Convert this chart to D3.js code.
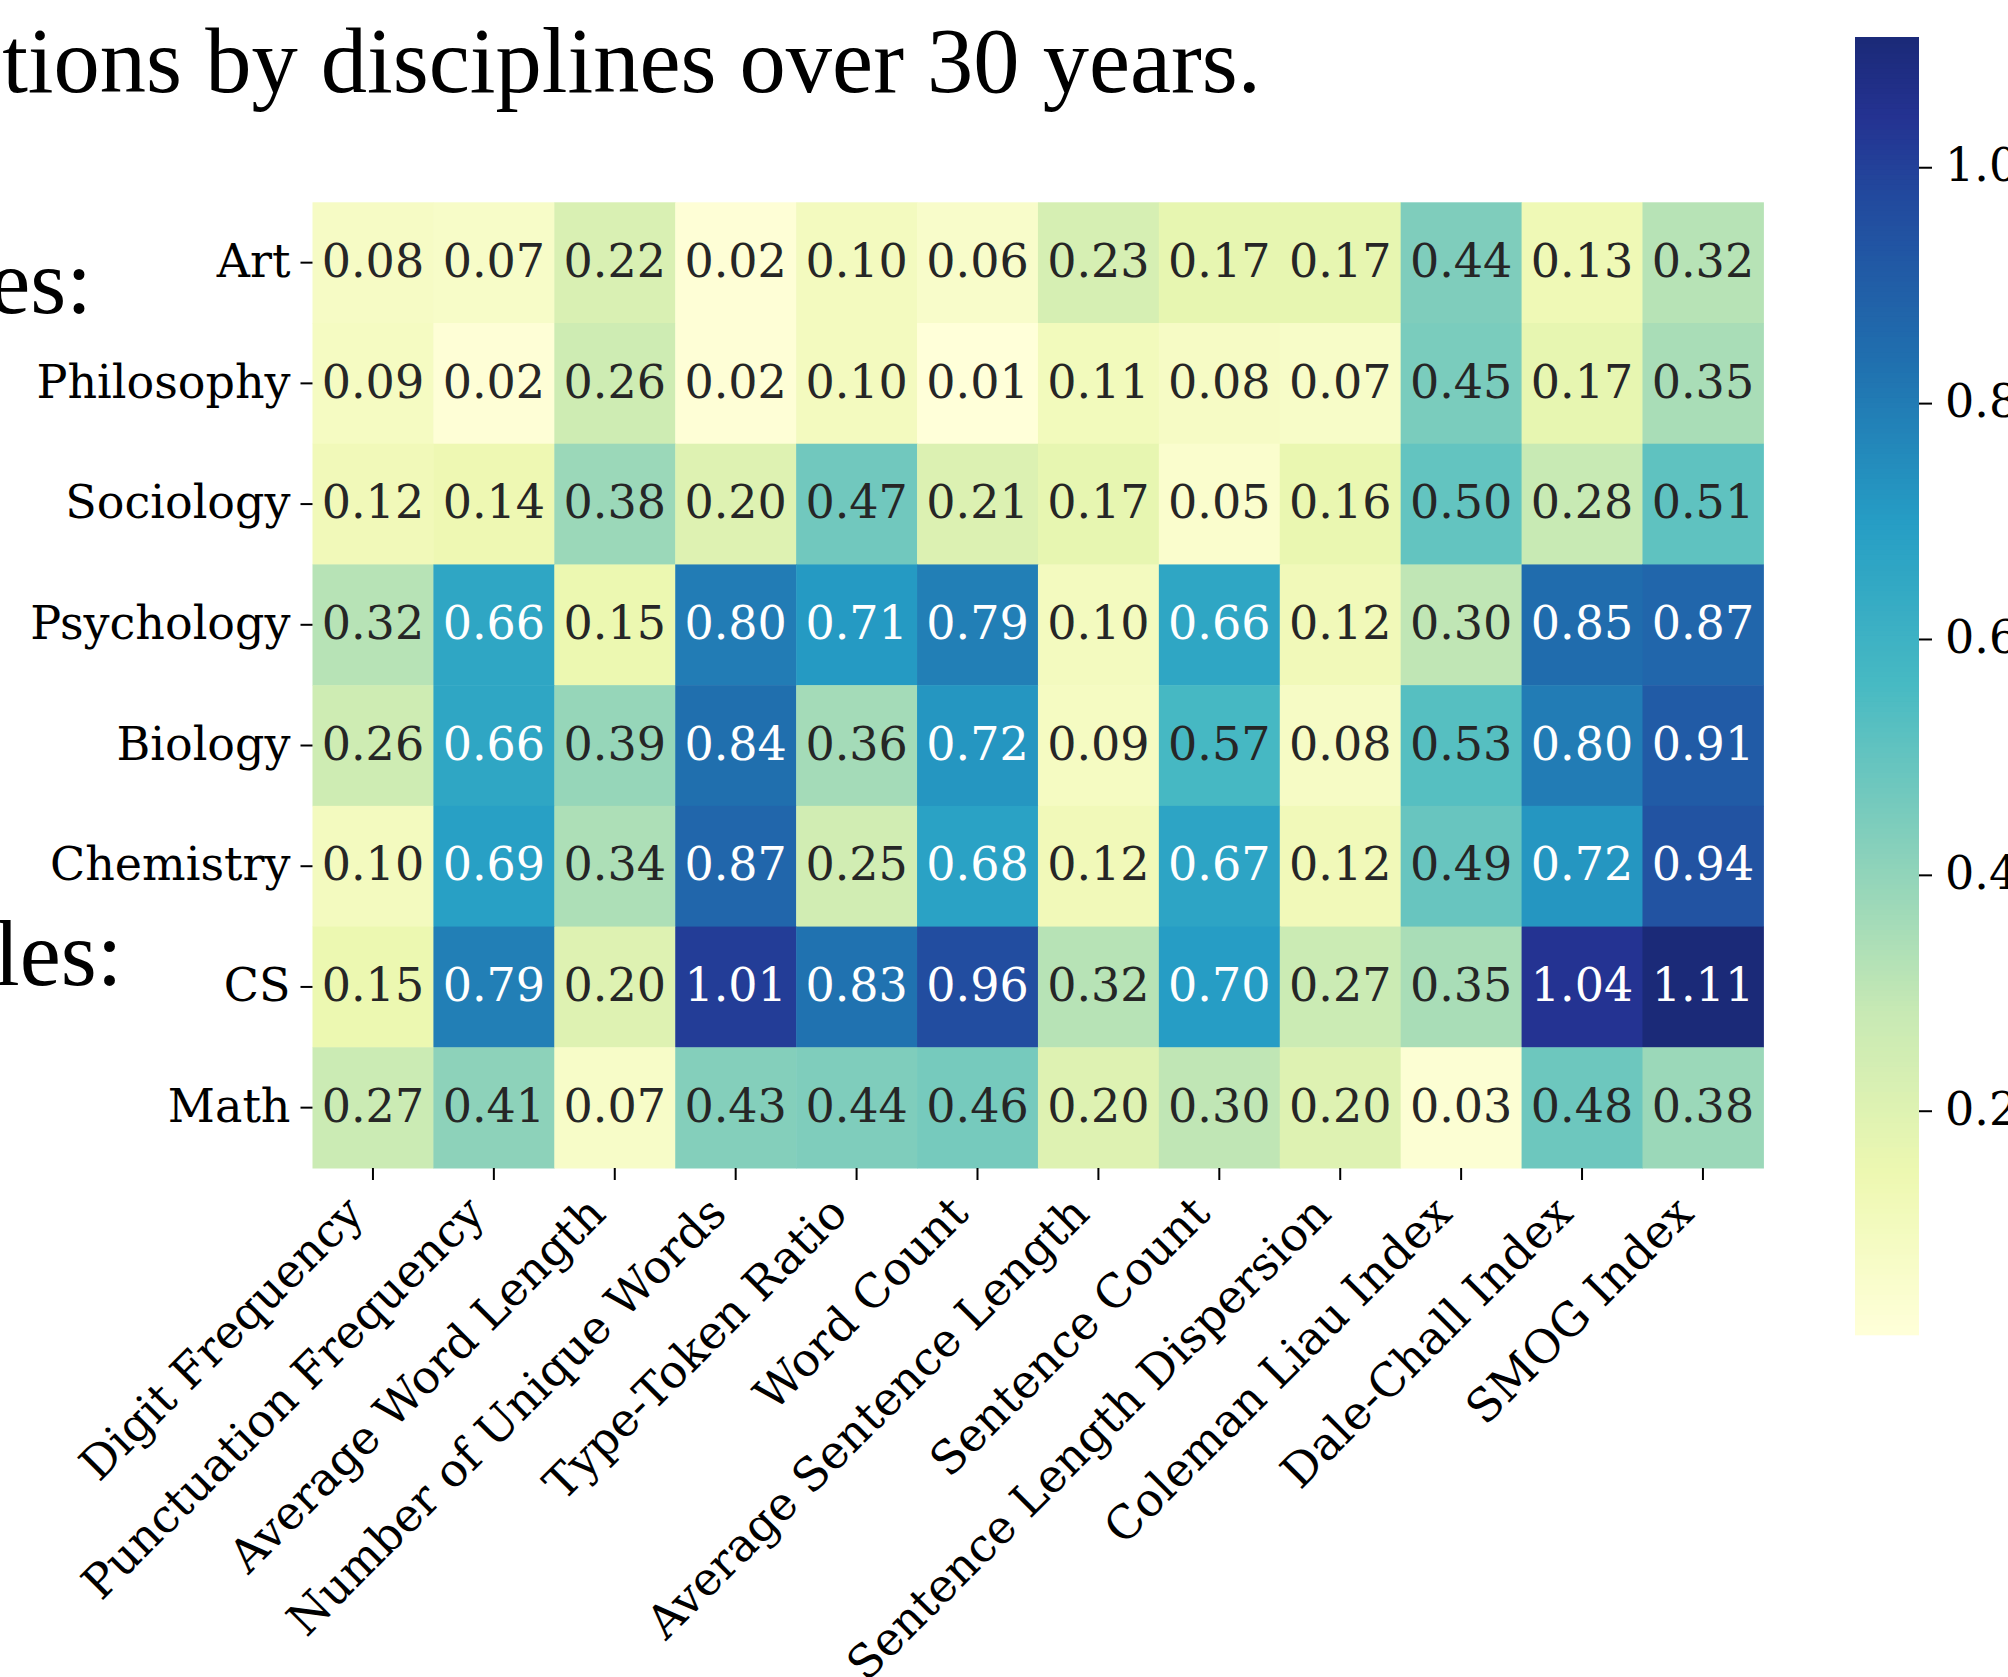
<!DOCTYPE html>
<html>
<head>
<meta charset="utf-8">
<script src="https://cdn.jsdelivr.net/npm/d3@7"></script>
<style>
  html, body { margin: 0; padding: 0; background: #ffffff; }
  svg { display: block; }
</style>
</head>
<body>
<svg id="chart" width="2008" height="1677"></svg>
<script>
// ---- data ----
const disciplines = ["Art", "Philosophy", "Sociology", "Psychology", "Biology", "Chemistry", "CS", "Math"];
const features = ["Digit Frequency", "Punctuation Frequency", "Average Word Length", "Number of Unique Words",
  "Type-Token Ratio", "Word Count", "Average Sentence Length", "Sentence Count",
  "Sentence Length Dispersion", "Coleman Liau Index", "Dale-Chall Index", "SMOG Index"];
const artValues        = [0.08, 0.07, 0.22, 0.02, 0.10, 0.06, 0.23, 0.17, 0.17, 0.44, 0.13, 0.32];
const philosophyValues = [0.09, 0.02, 0.26, 0.02, 0.10, 0.01, 0.11, 0.08, 0.07, 0.45, 0.17, 0.35];
const sociologyValues  = [0.12, 0.14, 0.38, 0.20, 0.47, 0.21, 0.17, 0.05, 0.16, 0.50, 0.28, 0.51];
const psychologyValues = [0.32, 0.66, 0.15, 0.80, 0.71, 0.79, 0.10, 0.66, 0.12, 0.30, 0.85, 0.87];
const biologyValues    = [0.26, 0.66, 0.39, 0.84, 0.36, 0.72, 0.09, 0.57, 0.08, 0.53, 0.80, 0.91];
const chemistryValues  = [0.10, 0.69, 0.34, 0.87, 0.25, 0.68, 0.12, 0.67, 0.12, 0.49, 0.72, 0.94];
const csValues         = [0.15, 0.79, 0.20, 1.01, 0.83, 0.96, 0.32, 0.70, 0.27, 0.35, 1.04, 1.11];
const mathValues       = [0.27, 0.41, 0.07, 0.43, 0.44, 0.46, 0.20, 0.30, 0.20, 0.03, 0.48, 0.38];
const colorbarTicks = [0.2, 0.4, 0.6, 0.8, 1.0];
const titleText = "tions by disciplines over 30 years.";
const sideFragments = [{text: "es:", row: 0}, {text: "les:", row: 6}];

const matrix = [artValues, philosophyValues, sociologyValues, psychologyValues,
  biologyValues, chemistryValues, csValues, mathValues];

// ---- layout ----
const svg = d3.select("#chart");
const serifLabel = "'DejaVu Serif', serif";
const fontSize = 46;
const hm = {left: 312.5, right: 1763.4, top: 202.3, bottom: 1168};
const cb = {left: 1855, right: 1919, top: 37.5, bottom: 1334.8};

const x = d3.scaleBand().domain(features).range([hm.left, hm.right]);
const y = d3.scaleBand().domain(disciplines).range([hm.top, hm.bottom]);

const allVals = matrix.flat();
const vmin = d3.min(allVals), vmax = d3.max(allVals);

// YlGnBu as it appears in the reference (dark end slightly lifted)
const cmapStops  = [0, 0.125, 0.25, 0.375, 0.5, 0.625, 0.75, 0.875, 0.94, 1];
const cmapColors = ["#ffffd9", "#edf8b1", "#c7e9b4", "#87d0bb", "#48bac3", "#269ec5", "#2070af", "#224a9e", "#243291", "#1b2a78"];
const cmap = d3.scaleLinear().domain(cmapStops).range(cmapColors)
  .interpolate(d3.interpolateRgb).clamp(true);
const norm = d3.scaleLinear().domain([vmin, vmax]).range([0, 1]).clamp(true);
const color = v => cmap(norm(v));

function relLum(c) {
  const rgb = d3.rgb(c);
  const f = u => { u = u / 255; return u <= 0.03928 ? u / 12.92 : Math.pow((u + 0.055) / 1.055, 2.4); };
  return 0.2126 * f(rgb.r) + 0.7152 * f(rgb.g) + 0.0722 * f(rgb.b);
}

// ---- cells ----
const cells = [];
matrix.forEach((row, i) => row.forEach((v, j) => cells.push({r: disciplines[i], c: features[j], v})));

svg.append("g").selectAll("rect").data(cells).join("rect")
  .attr("x", d => x(d.c)).attr("y", d => y(d.r))
  .attr("width", x.bandwidth() + 0.5).attr("height", y.bandwidth() + 0.5)
  .attr("fill", d => color(d.v));

svg.append("g").selectAll("text").data(cells).join("text")
  .attr("x", d => x(d.c) + x.bandwidth() / 2)
  .attr("y", d => y(d.r) + y.bandwidth() / 2)
  .attr("dy", "0.31em")
  .attr("text-anchor", "middle")
  .attr("font-family", serifLabel).attr("font-size", fontSize)
  .attr("fill", d => d.v >= 0.6 ? "#ffffff" : "#262626")
  .text(d => d.v.toFixed(2));

// ---- y axis ----
const yAxis = d3.axisLeft(y).tickSize(12).tickPadding(10);
const gy = svg.append("g").attr("transform", `translate(${hm.left},0)`).call(yAxis);
gy.select(".domain").remove();
gy.selectAll(".tick line").attr("stroke", "#000").attr("stroke-width", 2);
gy.selectAll(".tick text").attr("font-family", serifLabel).attr("font-size", fontSize)
  .attr("fill", "#000").attr("dy", "0.31em");

// ---- x axis ----
const xAxis = d3.axisBottom(x).tickSize(12).tickPadding(0);
const gx = svg.append("g").attr("transform", `translate(0,${hm.bottom})`).call(xAxis);
gx.select(".domain").remove();
gx.selectAll(".tick line").attr("stroke", "#000").attr("stroke-width", 2);
gx.selectAll(".tick text")
  .attr("font-family", serifLabel).attr("font-size", fontSize).attr("fill", "#000")
  .attr("text-anchor", "end")
  .attr("dy", null).attr("y", null)
  .attr("transform", "translate(-7,48) rotate(-45)");

// ---- colorbar ----
const cbScale = d3.scaleLinear().domain([vmin, vmax]).range([cb.bottom, cb.top]);
const nSteps = 256;
const steps = d3.range(nSteps).map(i => vmin + (vmax - vmin) * i / nSteps);
const stepH = (cb.bottom - cb.top) / nSteps;
svg.append("g").selectAll("rect").data(steps).join("rect")
  .attr("x", cb.left).attr("width", cb.right - cb.left)
  .attr("y", d => cbScale(d) - stepH - 0.5).attr("height", stepH + 1)
  .attr("fill", d => color(d + (vmax - vmin) / nSteps / 2));

const cbAxis = d3.axisRight(cbScale).tickValues(colorbarTicks).tickFormat(d3.format(".1f")).tickSize(13).tickPadding(13);
const gcb = svg.append("g").attr("transform", `translate(${cb.right},0)`).call(cbAxis);
gcb.select(".domain").remove();
gcb.selectAll(".tick line").attr("stroke", "#000").attr("stroke-width", 2);
gcb.selectAll(".tick text").attr("font-family", serifLabel).attr("font-size", fontSize)
  .attr("fill", "#000").attr("dy", "0.29em");

// ---- title fragments ----
svg.append("text")
  .attr("x", 1261).attr("y", 92)
  .attr("text-anchor", "end")
  .attr("font-family", "'Liberation Serif', 'Times New Roman', serif")
  .attr("font-size", 92.5).attr("fill", "#000")
  .text(titleText);

const fragX = {"es:": 92, "les:": 122.5};
const fragY = {"es:": 313, "les:": 985};
svg.append("g").selectAll("text").data(sideFragments).join("text")
  .attr("x", d => fragX[d.text]).attr("y", d => fragY[d.text])
  .attr("text-anchor", "end")
  .attr("font-family", "'Liberation Serif', 'Times New Roman', serif")
  .attr("font-size", 92.5).attr("fill", "#000")
  .text(d => d.text);
</script>
</body>
</html>
